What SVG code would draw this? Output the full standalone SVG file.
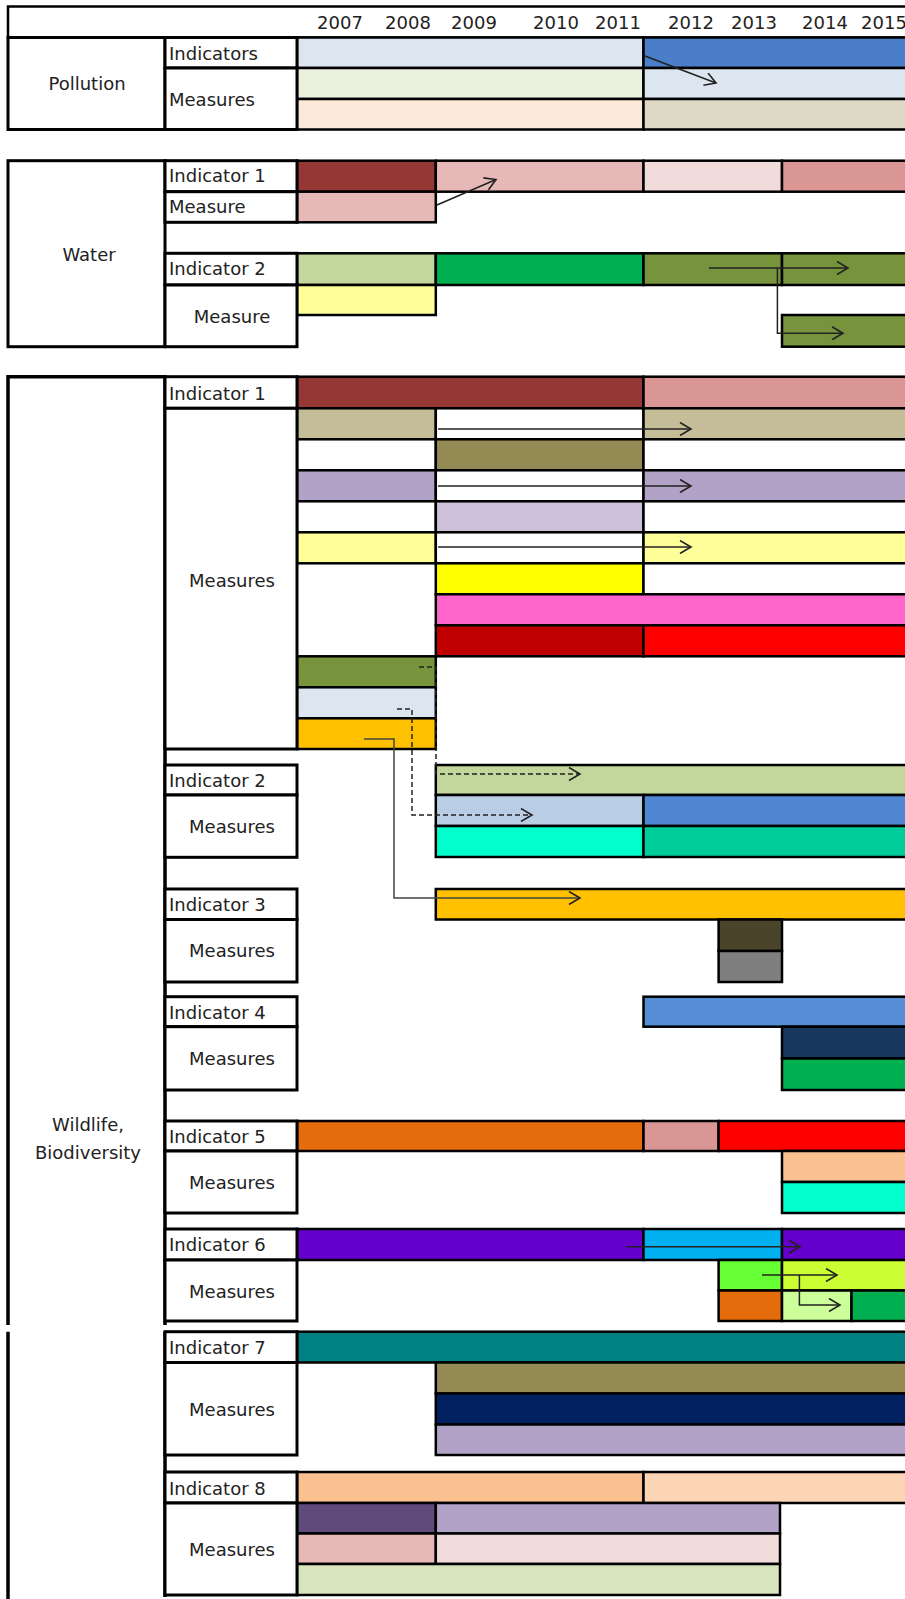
<svg xmlns="http://www.w3.org/2000/svg" width="905" height="1599" viewBox="0 0 905 1599">
<style>
.b{stroke:#000;stroke-width:2.5}
.lb{fill:#fff;stroke:#000;stroke-width:3}
.t{font-family:"DejaVu Sans","Liberation Sans",sans-serif;font-size:18px;fill:#222}
.m{text-anchor:middle}
.ln{fill:none;stroke:#222;stroke-width:1.5}
.ds{stroke-dasharray:5,3}
.frame{fill:none;stroke:#000;stroke-width:3.5}
</style>
<defs>
<marker id="ah" viewBox="0 0 14 14" refX="12" refY="7" markerWidth="14" markerHeight="14" markerUnits="userSpaceOnUse" orient="auto">
<path d="M1,0.5 L12,7 L1,13.5" fill="none" stroke="#222" stroke-width="1.6"/>
</marker>
</defs>
<rect width="905" height="1599" fill="#fff"/>

<g id="header">
<rect x="8" y="6.5" width="902" height="31" fill="#fff" class="b"/>
<g class="t m">
<text x="340" y="29">2007</text>
<text x="408" y="29">2008</text>
<text x="474" y="29">2009</text>
<text x="556" y="29">2010</text>
<text x="618" y="29">2011</text>
<text x="691" y="29">2012</text>
<text x="754" y="29">2013</text>
<text x="825" y="29">2014</text>
<text x="884" y="29">2015</text>
</g>
</g>

<g id="pollution">
<rect x="297" y="37.5" width="346.5" height="30.5" fill="#DCE6F1" class="b"/>
<rect x="643.5" y="37.5" width="266.5" height="30.5" fill="#4A7EC8" class="b"/>
<rect x="297" y="68" width="346.5" height="31" fill="#EBF1DE" class="b"/>
<rect x="643.5" y="68" width="266.5" height="31" fill="#DCE6F1" class="b"/>
<rect x="297" y="99" width="346.5" height="30.5" fill="#FDE9D9" class="b"/>
<rect x="643.5" y="99" width="266.5" height="30.5" fill="#DDD9C4" class="b"/>
<rect x="8" y="37.5" width="157" height="92" class="lb"/>
<rect x="165" y="37.5" width="132" height="30.5" class="lb"/>
<rect x="165" y="68" width="132" height="61.5" class="lb"/>
<text class="t m" x="87" y="90">Pollution</text>
<text class="t" x="169" y="60">Indicators</text>
<text class="t" x="169" y="106">Measures</text>
</g>

<g id="water">
<rect x="297" y="160.7" width="138.8" height="31" fill="#953735" class="b"/>
<rect x="435.8" y="160.7" width="207.7" height="31" fill="#E6B9B8" class="b"/>
<rect x="643.5" y="160.7" width="138.5" height="31" fill="#F2DCDB" class="b"/>
<rect x="782" y="160.7" width="128" height="31" fill="#DA9694" class="b"/>
<rect x="297" y="191.7" width="138.8" height="30.6" fill="#E6B9B8" class="b"/>
<rect x="297" y="253.3" width="138.8" height="31.7" fill="#C3D69B" class="b"/>
<rect x="435.8" y="253.3" width="207.7" height="31.7" fill="#00B050" class="b"/>
<rect x="643.5" y="253.3" width="138.5" height="31.7" fill="#77933C" class="b"/>
<rect x="782" y="253.3" width="128" height="31.7" fill="#77933C" class="b"/>
<rect x="297" y="285" width="138.8" height="30" fill="#FFFF99" class="b"/>
<rect x="782" y="315" width="128" height="31.7" fill="#77933C" class="b"/>
<rect x="8" y="160.7" width="157" height="186" class="lb"/>
<rect x="165" y="160.7" width="132" height="31" class="lb"/>
<rect x="165" y="191.7" width="132" height="30.6" class="lb"/>
<rect x="165" y="253.3" width="132" height="31.7" class="lb"/>
<rect x="165" y="285" width="132" height="61.7" class="lb"/>
<text class="t m" x="89" y="261">Water</text>
<text class="t" x="169" y="181.5">Indicator 1</text>
<text class="t" x="169" y="213">Measure</text>
<text class="t" x="169" y="275">Indicator 2</text>
<text class="t m" x="232" y="323">Measure</text>
</g>

<g id="wildlife-frame">
<path class="frame" d="M8,1325 V376.7 H165 V1325"/>
<path class="frame" d="M8,1331.7 V1599 M165,1331.7 V1597"/>
<text class="t m" x="88" y="1131">Wildlife,</text>
<text class="t m" x="88" y="1159">Biodiversity</text>
</g>

<g id="w-ind1">
<rect x="297" y="376.7" width="346.5" height="31.6" fill="#953735" class="b"/>
<rect x="643.5" y="376.7" width="266.5" height="31.6" fill="#DA9694" class="b"/>
<rect x="297" y="408.3" width="138.8" height="31" fill="#C4BD97" class="b"/>
<rect x="435.8" y="408.3" width="207.7" height="31" fill="#fff" class="b"/>
<rect x="643.5" y="408.3" width="266.5" height="31" fill="#C4BD97" class="b"/>
<rect x="297" y="439.3" width="138.8" height="31" fill="#fff" class="b"/>
<rect x="435.8" y="439.3" width="207.7" height="31" fill="#948A54" class="b"/>
<rect x="643.5" y="439.3" width="266.5" height="31" fill="#fff" class="b"/>
<rect x="297" y="470.3" width="138.8" height="31" fill="#B3A2C7" class="b"/>
<rect x="435.8" y="470.3" width="207.7" height="31" fill="#fff" class="b"/>
<rect x="643.5" y="470.3" width="266.5" height="31" fill="#B3A2C7" class="b"/>
<rect x="297" y="501.3" width="138.8" height="31" fill="#fff" class="b"/>
<rect x="435.8" y="501.3" width="207.7" height="31" fill="#CCC0DA" class="b"/>
<rect x="643.5" y="501.3" width="266.5" height="31" fill="#fff" class="b"/>
<rect x="297" y="532.3" width="138.8" height="31" fill="#FFFF99" class="b"/>
<rect x="435.8" y="532.3" width="207.7" height="31" fill="#fff" class="b"/>
<rect x="643.5" y="532.3" width="266.5" height="31" fill="#FFFF99" class="b"/>
<rect x="435.8" y="563.3" width="207.7" height="31" fill="#FFFF00" class="b"/>
<rect x="643.5" y="563.3" width="266.5" height="31" fill="#fff" class="b"/>
<rect x="435.8" y="594.3" width="474.2" height="31" fill="#FF66CC" class="b"/>
<rect x="435.8" y="625.3" width="207.7" height="31" fill="#C00000" class="b"/>
<rect x="643.5" y="625.3" width="266.5" height="31" fill="#FF0000" class="b"/>
<rect x="297" y="656.3" width="138.8" height="31" fill="#77933C" class="b"/>
<rect x="297" y="687.3" width="138.8" height="31" fill="#DCE6F1" class="b"/>
<rect x="297" y="718.3" width="138.8" height="30.7" fill="#FFC000" class="b"/>
<rect x="165" y="376.7" width="132" height="31.6" class="lb"/>
<rect x="165" y="408.3" width="132" height="340.7" class="lb"/>
<text class="t" x="169" y="399.5">Indicator 1</text>
<text class="t m" x="232" y="587">Measures</text>
</g>

<g id="w-ind2">
<rect x="435.8" y="765" width="474.2" height="30" fill="#C3D69B" class="b"/>
<rect x="435.8" y="795" width="207.7" height="31" fill="#B9CDE5" class="b"/>
<rect x="643.5" y="795" width="266.5" height="31" fill="#4F87D3" class="b"/>
<rect x="435.8" y="826" width="207.7" height="31" fill="#00FFCC" class="b"/>
<rect x="643.5" y="826" width="266.5" height="31" fill="#00CC99" class="b"/>
<rect x="165" y="765" width="132" height="30" class="lb"/>
<rect x="165" y="795" width="132" height="62.3" class="lb"/>
<text class="t" x="169" y="787">Indicator 2</text>
<text class="t m" x="232" y="833">Measures</text>
</g>

<g id="w-ind3">
<rect x="435.8" y="889" width="474.2" height="30.5" fill="#FFC000" class="b"/>
<rect x="718.6" y="919.5" width="63.4" height="31.5" fill="#4A452A" class="b"/>
<rect x="718.6" y="951" width="63.4" height="31" fill="#7F7F7F" class="b"/>
<rect x="165" y="889" width="132" height="30.5" class="lb"/>
<rect x="165" y="919.5" width="132" height="62.5" class="lb"/>
<text class="t" x="169" y="911">Indicator 3</text>
<text class="t m" x="232" y="957">Measures</text>
</g>

<g id="w-ind4">
<rect x="643.5" y="996.7" width="266.5" height="30" fill="#558ED5" class="b"/>
<rect x="782" y="1026.7" width="128" height="31.8" fill="#17375E" class="b"/>
<rect x="782" y="1058.5" width="128" height="31.5" fill="#00B050" class="b"/>
<rect x="165" y="996.7" width="132" height="30" class="lb"/>
<rect x="165" y="1026.7" width="132" height="63.3" class="lb"/>
<text class="t" x="169" y="1018.5">Indicator 4</text>
<text class="t m" x="232" y="1065">Measures</text>
</g>

<g id="w-ind5">
<rect x="297" y="1121" width="346.5" height="30" fill="#E46C0A" class="b"/>
<rect x="643.5" y="1121" width="75.1" height="30" fill="#D99694" class="b"/>
<rect x="718.6" y="1121" width="191.4" height="30" fill="#FF0000" class="b"/>
<rect x="782" y="1151" width="128" height="31" fill="#FAC090" class="b"/>
<rect x="782" y="1182" width="128" height="31" fill="#00FFCC" class="b"/>
<rect x="165" y="1121" width="132" height="30" class="lb"/>
<rect x="165" y="1151" width="132" height="62" class="lb"/>
<text class="t" x="169" y="1143">Indicator 5</text>
<text class="t m" x="232" y="1189">Measures</text>
</g>

<g id="w-ind6">
<rect x="297" y="1229" width="346.5" height="31" fill="#6600CC" class="b"/>
<rect x="643.5" y="1229" width="138.5" height="31" fill="#00B0F0" class="b"/>
<rect x="782" y="1229" width="128" height="31" fill="#6600CC" class="b"/>
<rect x="718.6" y="1260" width="63.4" height="30.5" fill="#66FF33" class="b"/>
<rect x="782" y="1260" width="128" height="30.5" fill="#CCFF33" class="b"/>
<rect x="718.6" y="1290.5" width="63.4" height="30.5" fill="#E46C0A" class="b"/>
<rect x="782" y="1290.5" width="69.5" height="30.5" fill="#CCFF99" class="b"/>
<rect x="851.5" y="1290.5" width="58.5" height="30.5" fill="#00B050" class="b"/>
<rect x="165" y="1229" width="132" height="31" class="lb"/>
<rect x="165" y="1260" width="132" height="61" class="lb"/>
<text class="t" x="169" y="1251">Indicator 6</text>
<text class="t m" x="232" y="1297.5">Measures</text>
</g>

<g id="w-ind7">
<rect x="297" y="1331.7" width="613" height="30.8" fill="#008080" class="b"/>
<rect x="435.8" y="1362.5" width="474.2" height="31" fill="#948A54" class="b"/>
<rect x="435.8" y="1393.5" width="474.2" height="31" fill="#002060" class="b"/>
<rect x="435.8" y="1424.5" width="474.2" height="30.5" fill="#B3A2C7" class="b"/>
<rect x="165" y="1331.7" width="132" height="30.8" class="lb"/>
<rect x="165" y="1362.5" width="132" height="92.5" class="lb"/>
<text class="t" x="169" y="1354">Indicator 7</text>
<text class="t m" x="232" y="1415.5">Measures</text>
</g>

<g id="w-ind8">
<rect x="297" y="1472" width="346.5" height="31" fill="#FAC090" class="b"/>
<rect x="643.5" y="1472" width="266.5" height="31" fill="#FCD5B5" class="b"/>
<rect x="297" y="1503" width="138.8" height="30.5" fill="#604A7B" class="b"/>
<rect x="435.8" y="1503" width="344.2" height="30.5" fill="#B3A2C7" class="b"/>
<rect x="297" y="1533.5" width="138.8" height="30.5" fill="#E6B9B8" class="b"/>
<rect x="435.8" y="1533.5" width="344.2" height="30.5" fill="#F2DCDB" class="b"/>
<rect x="297" y="1564" width="483" height="31" fill="#D7E4BD" class="b"/>
<rect x="165" y="1472" width="132" height="31" class="lb"/>
<rect x="165" y="1503" width="132" height="92" class="lb"/>
<text class="t" x="169" y="1494.5">Indicator 8</text>
<text class="t m" x="232" y="1556">Measures</text>
</g>

<g id="connectors">
<path class="ln" d="M645,56 L716,83" marker-end="url(#ah)"/>
<path class="ln" d="M437,205 L496,179.5" marker-end="url(#ah)"/>
<path class="ln" d="M709,268 H848" marker-end="url(#ah)"/>
<path class="ln" d="M777.4,268 V333.3 H843" marker-end="url(#ah)"/>
<path class="ln" d="M438,429 H691" marker-end="url(#ah)"/>
<path class="ln" d="M438,486 H691" marker-end="url(#ah)"/>
<path class="ln" d="M438,547 H691" marker-end="url(#ah)"/>
<path class="ln ds" d="M419,667 H436 V774 H580" marker-end="url(#ah)"/>
<path class="ln ds" d="M397,709 H412 V815 H532" marker-end="url(#ah)"/>
<path class="ln" style="stroke:#444" d="M364,739 H394 V898 H580" marker-end="url(#ah)"/>
<path class="ln" d="M626,1246.7 H800" marker-end="url(#ah)"/>
<path class="ln" d="M762,1275 H837" marker-end="url(#ah)"/>
<path class="ln" d="M799.4,1275 V1305 H840" marker-end="url(#ah)"/>
</g>
</svg>
